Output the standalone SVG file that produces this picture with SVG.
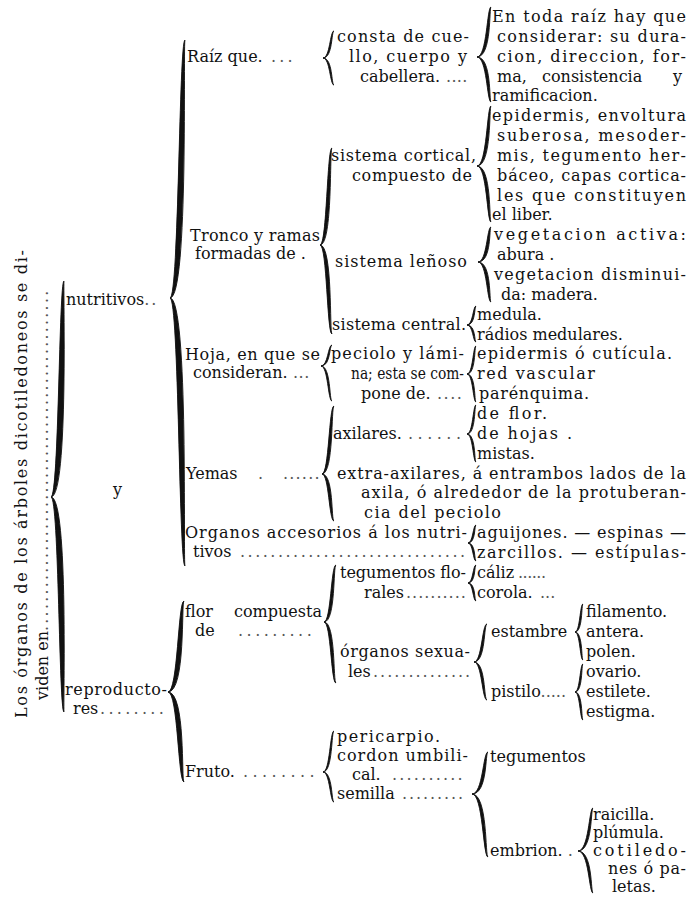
<svg xmlns="http://www.w3.org/2000/svg" width="688" height="899" viewBox="0 0 688 899">
<style>
.t{font-family:"DejaVu Serif","Liberation Serif",serif;font-size:16px;fill:#111}
.d{fill:#555}
.br{fill:#111;stroke:#111;stroke-width:0.9;stroke-linejoin:round}
</style>
<rect width="688" height="899" fill="#fff"/>
<g id="connectors">
<path class="br" d="M64,281 C59,281 59,497 51,497 C69,497 63,281 64,281 Z M64,712 C59,712 59,497 51,497 C69,497 63,712 64,712 Z"/>
<path class="br" d="M185,40 C179,40 179,298 170,298 C189,298 183,40 185,40 Z M185,566 C179,566 179,298 170,298 C189,298 183,566 185,566 Z"/>
<path class="br" d="M184,601 C178,601 178,692 168,692 C186,692 181.2,601 184,601 Z M184,782 C178,782 178,692 168,692 C186,692 181.2,782 184,782 Z"/>
<path class="br" d="M334,31 C330,31 330,58 323,58 C333,58 331.2,31 334,31 Z M334,85 C330,85 330,58 323,58 C333,58 331.2,85 334,85 Z"/>
<path class="br" d="M332,148 C327,148 327,245 320,245 C333,245 329.4,148 332,148 Z M332,334 C327,334 327,245 320,245 C333,245 329.4,334 332,334 Z"/>
<path class="br" d="M332,345 C328,345 328,366 321,366 C331,366 329.2,345 332,345 Z M332,401 C328,401 328,366 321,366 C331,366 329.2,401 332,401 Z"/>
<path class="br" d="M334,406 C329,406 329,474 322,474 C334,474 331,406 334,406 Z M334,521 C329,521 329,474 322,474 C334,474 331,521 334,521 Z"/>
<path class="br" d="M336,565 C331,565 331,622 324,622 C336,622 333,565 336,565 Z M336,683 C331,683 331,622 324,622 C336,622 333,683 336,683 Z"/>
<path class="br" d="M334,731 C330,731 330,772 323,772 C333,772 331.2,731 334,731 Z M334,802 C330,802 330,772 323,772 C333,772 331.2,802 334,802 Z"/>
<path class="br" d="M491,7 C487,7 487,57 477,57 C492,57 489,7 491,7 Z M491,102 C487,102 487,57 477,57 C492,57 489,102 491,102 Z"/>
<path class="br" d="M491,106 C487,106 487,166 477,166 C492,166 489,106 491,106 Z M491,222 C487,222 487,166 477,166 C492,166 489,222 491,222 Z"/>
<path class="br" d="M491,227 C487,227 487,262 478,262 C492,262 489,227 491,227 Z M491,302 C487,302 487,262 478,262 C492,262 489,302 491,302 Z"/>
<path class="br" d="M476,306 C473,306 473,325 467,325 C476,325 474.2,306 476,306 Z M476,342 C473,342 473,325 467,325 C476,325 474.2,342 476,342 Z"/>
<path class="br" d="M476,346 C473,346 473,374 467,374 C476,374 474.2,346 476,346 Z M476,402 C473,402 473,374 467,374 C476,374 474.2,402 476,402 Z"/>
<path class="br" d="M476,405 C473,405 473,434 467,434 C476,434 474.2,405 476,405 Z M476,462 C473,462 473,434 467,434 C476,434 474.2,462 476,462 Z"/>
<path class="br" d="M476,525 C473,525 473,543 468,543 C476,543 474.2,525 476,525 Z M476,561 C473,561 473,543 468,543 C476,543 474.2,561 476,561 Z"/>
<path class="br" d="M476,565 C473,565 473,583 468,583 C476,583 474.2,565 476,565 Z M476,601 C473,601 473,583 468,583 C476,583 474.2,601 476,601 Z"/>
<path class="br" d="M487,624 C482,624 482,662 474,662 C486,662 483.6,624 487,624 Z M487,700 C482,700 482,662 474,662 C486,662 483.6,700 487,700 Z"/>
<path class="br" d="M583,604 C580,604 580,632 575,632 C583,632 581.2,604 583,604 Z M583,660 C580,660 580,632 575,632 C583,632 581.2,660 583,660 Z"/>
<path class="br" d="M583,664 C580,664 580,692 575,692 C583,692 581.2,664 583,664 Z M583,720 C580,720 580,692 575,692 C583,692 581.2,720 583,720 Z"/>
<path class="br" d="M488,752 C483,752 483,794 472,794 C488,794 485,752 488,752 Z M488,857 C483,857 483,794 472,794 C488,794 485,857 488,857 Z"/>
<path class="br" d="M593,808 C589,808 589,851 578,851 C593,851 590.6,808 593,808 Z M593,893 C589,893 589,851 578,851 C593,851 590.6,893 593,893 Z"/>
</g>
<g id="n-root">
<text class="t" transform="translate(27,718) rotate(-90)" textLength="468">Los órganos de los árboles dicotiledoneos se di-</text>
<text class="t" transform="translate(48,700) rotate(-90)">viden en<tspan class="d" letter-spacing="2.2">...............................................</tspan></text>
</g>
<g id="n-nutritivos"><text class="t" x="66" y="305">nutritivos<tspan class="d" letter-spacing="2">..</tspan></text></g>
<g id="n-y"><text class="t" x="113" y="495">y</text></g>
<g id="n-reproductores"><text class="t" x="65" y="695" textLength="102">reproducto-</text><text class="t" x="73" y="714">res<tspan class="d" x="100" letter-spacing="3.3">........</tspan></text></g>
<g id="n-raiz"><text class="t" x="187" y="62">Raíz que.<tspan class="d" x="271" letter-spacing="3.2">...</tspan></text></g>
<g id="n-tronco"><text class="t" x="190" y="241" textLength="130">Tronco y ramas</text><text class="t" x="195" y="259">formadas de .</text></g>
<g id="n-hoja"><text class="t" x="185" y="360" textLength="135">Hoja, en que se</text><text class="t" x="193" y="378">consideran.<tspan class="d" x="293" letter-spacing="0.5">...</tspan></text></g>
<g id="n-yemas"><text class="t" x="186" y="479">Yemas<tspan class="d" x="258">.</tspan><tspan class="d" x="283" letter-spacing="1.2">......</tspan></text></g>
<g id="n-accesorios"><text class="t" x="185" y="538" textLength="282">Organos accesorios á los nutri-</text><text class="t" x="193" y="557">tivos<tspan class="d" x="240" letter-spacing="2.5">..............................</tspan></text></g>
<g id="n-flor"><text class="t" x="185" y="617">flor<tspan x="234">compuesta</tspan></text><text class="t" x="195" y="636">de<tspan class="d" x="238" letter-spacing="3.5">.........</tspan></text></g>
<g id="n-fruto"><text class="t" x="185" y="777">Fruto.<tspan class="d" x="243" letter-spacing="4.4">........</tspan></text></g>
<g id="n-consta"><text class="t" x="337" y="42" textLength="132">consta de cue-</text><text class="t" x="349" y="62" textLength="118">llo, cuerpo y</text><text class="t" x="360" y="82">cabellera.<tspan class="d" x="446" letter-spacing="0.3">....</tspan></text></g>
<g id="n-cortical"><text class="t" x="331" y="161" textLength="145">sistema cortical,</text><text class="t" x="352" y="181" textLength="120">compuesto de</text></g>
<g id="n-lenoso"><text class="t" x="335" y="267" textLength="132">sistema leñoso</text></g>
<g id="n-central"><text class="t" x="332" y="330" textLength="134">sistema central.</text></g>
<g id="n-peciolo"><text class="t" x="331" y="359" textLength="133">peciolo y lámi-</text><text class="t" x="351" y="379" textLength="113" lengthAdjust="spacingAndGlyphs">na; esta se com-</text><text class="t" x="361" y="399">pone de.<tspan class="d" x="437" letter-spacing="1.5">....</tspan></text></g>
<g id="n-axilares"><text class="t" x="333" y="439">axilares.<tspan class="d" x="408" letter-spacing="4.5">......</tspan></text></g>
<g id="n-extra"><text class="t" x="337" y="479" textLength="349">extra-axilares, á entrambos lados de la</text><text class="t" x="361" y="498" textLength="325">axila, ó alrededor de la protuberan-</text><text class="t" x="364" y="518" textLength="137">cia del peciolo</text></g>
<g id="n-tegflor"><text class="t" x="340" y="578" textLength="126">tegumentos flo-</text><text class="t" x="364" y="598">rales<tspan class="d" x="406" letter-spacing="1">..........</tspan></text></g>
<g id="n-sexuales"><text class="t" x="340" y="657" textLength="130">órganos sexua-</text><text class="t" x="348" y="677">les<tspan class="d" x="373" letter-spacing="2">..............</tspan></text></g>
<g id="n-frutoparts"><text class="t" x="337" y="742" textLength="103">pericarpio.</text><text class="t" x="337" y="761" textLength="131">cordon umbili-</text><text class="t" x="352" y="780">cal.<tspan class="d" x="392" letter-spacing="2.2">..........</tspan></text><text class="t" x="337" y="799">semilla<tspan class="d" x="402" letter-spacing="1.9">.........</tspan></text></g>
<g id="n-raiz-detail"><text class="t" x="492" y="22" textLength="194">En toda raíz hay que</text><text class="t" x="497" y="42" textLength="189">considerar: su dura-</text><text class="t" x="497" y="62" textLength="189">cion, direccion, for-</text><text class="t" x="497" y="82">ma,<tspan x="542">consistencia</tspan><tspan x="673">y</tspan></text><text class="t" x="492" y="101">ramificacion.</text></g>
<g id="n-cortical-detail"><text class="t" x="492" y="121" textLength="194">epidermis, envoltura</text><text class="t" x="497" y="141" textLength="189">suberosa, mesoder-</text><text class="t" x="497" y="161" textLength="189">mis, tegumento her-</text><text class="t" x="497" y="181" textLength="189">báceo, capas cortica-</text><text class="t" x="497" y="201" textLength="189">les que constituyen</text><text class="t" x="492" y="220">el liber.</text></g>
<g id="n-lenoso-detail"><text class="t" x="494" y="240" textLength="192">vegetacion activa:</text><text class="t" x="497" y="260">abura .</text><text class="t" x="494" y="280" textLength="192">vegetacion disminui-</text><text class="t" x="501" y="300">da: madera.</text></g>
<g id="n-central-detail"><text class="t" x="477" y="320">medula.</text><text class="t" x="477" y="340">rádios medulares.</text></g>
<g id="n-lamina-detail"><text class="t" x="477" y="359" textLength="195">epidermis ó cutícula.</text><text class="t" x="477" y="379" textLength="118">red vascular</text><text class="t" x="479" y="399" textLength="110">parénquima.</text></g>
<g id="n-axilares-detail"><text class="t" x="477" y="419" textLength="70">de flor.</text><text class="t" x="477" y="439" textLength="95">de hojas .</text><text class="t" x="477" y="459">mistas.</text></g>
<g id="n-accesorios-detail"><text class="t" x="477" y="538" textLength="209">aguijones. — espinas —</text><text class="t" x="477" y="558" textLength="209">zarcillos. — estípulas-</text></g>
<g id="n-tegflor-detail"><text class="t" x="477" y="578">cáliz<tspan class="d" x="518" letter-spacing="-0.5">......</tspan></text><text class="t" x="477" y="598">corola.<tspan class="d" x="540">...</tspan></text></g>
<g id="n-estambre"><text class="t" x="491" y="637">estambre</text></g>
<g id="n-pistilo"><text class="t" x="491" y="697">pistilo<tspan class="d">.....</tspan></text></g>
<g id="n-estambre-detail"><text class="t" x="586" y="617">filamento.</text><text class="t" x="586" y="637">antera.</text><text class="t" x="586" y="657">polen.</text></g>
<g id="n-pistilo-detail"><text class="t" x="586" y="677">ovario.</text><text class="t" x="586" y="697">estilete.</text><text class="t" x="586" y="717">estigma.</text></g>
<g id="n-tegumentos"><text class="t" x="490" y="762">tegumentos</text></g>
<g id="n-embrion"><text class="t" x="490" y="856">embrion.<tspan class="d"> .</tspan></text></g>
<g id="n-embrion-detail"><text class="t" x="593" y="820">raicilla.</text><text class="t" x="593" y="838">plúmula.</text><text class="t" x="593" y="856" textLength="93">cotiledo-</text><text class="t" x="608" y="874" textLength="78">nes ó pa-</text><text class="t" x="612" y="892">letas.</text></g>
</svg>
